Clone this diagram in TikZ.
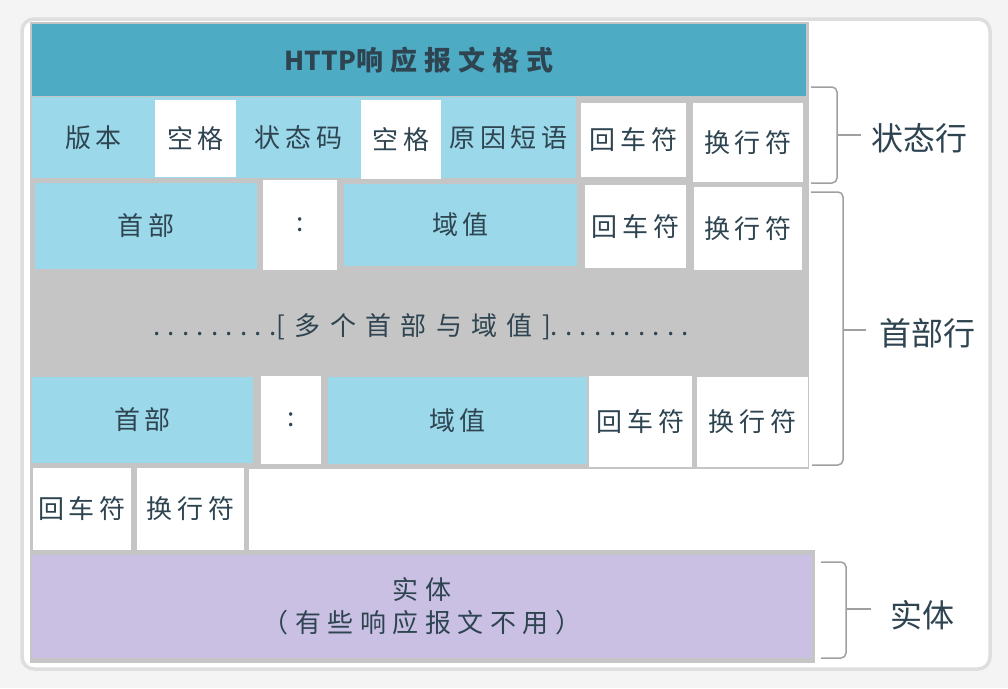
\documentclass[tikz,border=0pt]{standalone}
\usepackage{fontspec}
\setmainfont{Noto Sans CJK SC}
\newfontfamily\cellfont[LetterSpace=18]{Noto Sans CJK SC}
\newfontfamily\titlefont[LetterSpace=26]{Noto Sans CJK SC}
\newfontfamily\widefont[LetterSpace=36]{Noto Sans CJK SC}
\newfontfamily\dotfont[LetterSpace=28]{Noto Sans CJK SC}
\newfontfamily\entfont[LetterSpace=25]{Noto Sans CJK SC}
\newfontfamily\plainfont{Noto Sans CJK SC}
\definecolor{pagebg}{HTML}{F4F4F4}
\definecolor{framegray}{HTML}{DEDEDE}
\definecolor{titlebg}{HTML}{4EABC4}
\definecolor{cellblue}{HTML}{9BD8E9}
\definecolor{gridgray}{HTML}{C5C5C5}
\definecolor{entpurple}{HTML}{C9C0E3}
\definecolor{txt}{HTML}{2E4451}
\definecolor{bracegray}{HTML}{A0A0A0}
\newcommand\cellbox[7]{%
  \node[#6, minimum width={(#4-#2)*1pt}, minimum height={(#5-#3)*1pt}] (#1) at ({(#2+#4)/2},{(#3+#5)/2}) {#7};}
\begin{document}
\begin{tikzpicture}[x=1pt,y=-1pt,
  boxbase/.style={rectangle, inner sep=0pt, text=txt, font=\cellfont\fontsize{26}{30}\selectfont},
  bluebox/.style={boxbase, fill=cellblue},
  whitebox/.style={boxbase, fill=white},
  plaintext/.style={boxbase},
  titlebox/.style={boxbase, fill=titlebg},
  entbox/.style={boxbase, fill=entpurple, align=center, font=\entfont\fontsize{26}{33}\selectfont},
  bracel/.style={draw=bracegray, line width=1.5pt, rounded corners=5pt},
  sidelabel/.style={inner sep=0pt, text=txt, font=\plainfont\fontsize{32}{36}\selectfont}]
\useasboundingbox (0,0) rectangle (1008,688);
\fill[pagebg] (0,0) rectangle (1008,688);
\draw[framegray, line width=3.5pt, fill=white, rounded corners=12pt] (22,19) rectangle (990,669);
% grey grid background
\fill[gridgray] (30,22) rectangle (809,469);
\fill[gridgray] (30,469) rectangle (249,552);
\fill[gridgray] (30,550) rectangle (815,663);
% title
\cellbox{title}{32}{24}{806}{96}{titlebox}{{\plainfont\bfseries\fontsize{26}{30}\selectfont HTTP}{\titlefont\bfseries\fontsize{27}{30}\selectfont 响应报文格式}}
% row 1: status line
\fill[cellblue] (32,97) rectangle (576,178);
\cellbox{ver}{32}{97}{155}{178}{plaintext}{版本}
\cellbox{spa}{155}{100}{236}{177}{whitebox}{空格}
\cellbox{code}{236}{97}{361}{178}{plaintext}{状态码}
\cellbox{spb}{361}{100}{441}{179}{whitebox}{空格}
\cellbox{reason}{441}{97}{576}{178}{plaintext}{原因短语}
\cellbox{cra}{581}{103}{686}{177}{whitebox}{回车符}
\cellbox{lfa}{693}{103}{803}{182}{whitebox}{换行符}
% row 2: header line
\cellbox{hdra}{35}{183}{257}{269}{bluebox}{首部}
\cellbox{cola}{263}{180}{337}{270}{whitebox}{:}
\cellbox{vala}{344}{184}{577}{266}{bluebox}{域值}
\cellbox{crb}{585}{185}{686}{268}{whitebox}{回车符}
\cellbox{lfb}{694}{187}{802}{270}{whitebox}{换行符}
% row 3: more headers
\node[plaintext] (more) at (421,327) {{\dotfont\fontsize{26}{30}\selectfont .........}{\widefont\fontsize{26}{30}\selectfont [多个首部与域值]}{\dotfont\fontsize{26}{30}\selectfont ..........}};
% row 4: header line
\cellbox{hdrb}{32}{377}{253}{463}{bluebox}{首部}
\cellbox{colb}{261}{376}{321}{464}{whitebox}{:}
\cellbox{valb}{328}{377}{587}{464}{bluebox}{域值}
\cellbox{crc}{589}{376}{692}{467}{whitebox}{回车符}
\cellbox{lfc}{697}{377}{808}{467}{whitebox}{换行符}
% row 5: empty line
\cellbox{crd}{33}{468}{131}{550}{whitebox}{回车符}
\cellbox{lfd}{137}{468}{244}{550}{whitebox}{换行符}
% row 6: entity
\cellbox{entity}{32}{555}{812}{658}{entbox}{实体\\（有些响应报文不用）}
% braces and side labels
\draw[bracel] (811,87) -- (837,87) -- (837,183) -- (811,183);
\draw[bracegray, line width=1.5pt] (837,135) -- (861,135);
\node[sidelabel] (lblstatus) at (919,138) {状态行};
\draw[bracel] (811,192) -- (843,192) -- (843,465) -- (812,465);
\draw[bracegray, line width=1.5pt] (843,330) -- (866,330);
\node[sidelabel] (lblheader) at (927,333) {首部行};
\draw[bracel] (821,562) -- (846,562) -- (846,658) -- (821,658);
\draw[bracegray, line width=1.5pt] (846,609) -- (871,609);
\node[sidelabel] (lblentity) at (922,615) {实体};
\end{tikzpicture}
\end{document}
